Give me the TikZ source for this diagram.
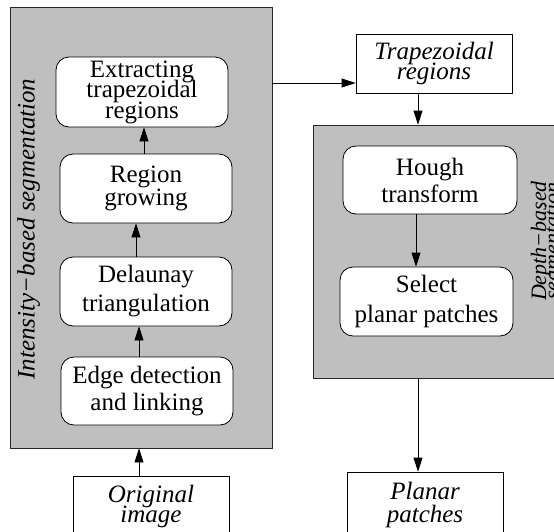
\documentclass[tikz,border=0pt]{standalone}
\usepackage{fontspec}
\setmainfont{Liberation Serif}
\usetikzlibrary{arrows.meta}
\newcommand\boxfont[1]{\fontsize{25}{#1}\selectfont\lineskiplimit=-50pt}
\begin{document}
\begin{tikzpicture}[x=1pt,y=-1pt,
  panel/.style={draw=black!85, fill=panel gray, line width=0.8pt, inner sep=0pt},
  proc/.style={draw=black, fill=white, rounded corners=13pt, line width=0.8pt, inner sep=0pt, align=center, font=\boxfont{27}},
  data/.style={draw=black, fill=white, line width=0.8pt, inner sep=0pt, align=center, font=\boxfont{20}\itshape},
  arrow/.style={-{Triangle[length=14pt,width=9pt]}, line width=0.8pt}]
\definecolor{panel gray}{gray}{0.75}
\useasboundingbox (0,0) rectangle (554,531);
\clip (0,0) rectangle (554,531);

    \node[panel, minimum width=262pt, minimum height=441pt] (intens) at (141,227.5) {};
    \node[panel, minimum width=262pt, minimum height=253pt] (depth) at (444,251.5) {};
    \node[rotate=90, anchor=base, font=\boxfont{26}\itshape] (intlabel) at (34.5,229) {Intensity−based segmentation};
    \node[rotate=90, align=center, font={\fontsize{22}{13}\selectfont\lineskiplimit=-50pt\itshape}] (deplabel) at (547.4,241) {Depth−based\\segmentation};

    \node[proc, minimum width=172pt, minimum height=70pt, font=\boxfont{20.5}] (extract) at (142,92) {Extracting\\trapezoidal\\regions};
    \node[proc, minimum width=172pt, minimum height=69pt, font=\boxfont{23}] (grow) at (146,188.5) {Region\\growing};
    \node[proc, minimum width=172pt, minimum height=69pt, font=\boxfont{29}] (delau) at (146,291.5) {Delaunay\\triangulation};
    \node[proc, minimum width=172pt, minimum height=68pt] (edge) at (147,391) {Edge detection\\and linking};
    \node[data, minimum width=156pt, minimum height=60pt] (orig) at (151,506) {Original\\image};

    \node[data, minimum width=156pt, minimum height=59pt] (trap) at (434,63.5) {Trapezoidal\\regions};
    \node[proc, minimum width=174pt, minimum height=68pt] (hough) at (430,180) {Hough\\transform};
    \node[proc, minimum width=173pt, minimum height=69pt, font=\boxfont{30}] (select) at (426.5,301.5) {Select\\planar patches};
    \node[data, minimum width=156pt, minimum height=65pt, font=\boxfont{23}\itshape] (planar) at (425,504.5) {Planar\\patches};

    \draw[arrow] ([xshift=-12pt]orig.north) -- ([xshift=-12pt]orig.north |- intens.south);
    \draw[arrow] ([xshift=-8pt]edge.north) -- ([xshift=-8pt]edge.north |- delau.south);
    \draw[arrow] ([xshift=-10pt]delau.north) -- ([xshift=-10pt]delau.north |- grow.south);
    \draw[arrow] ([xshift=-2pt]grow.north) -- ([xshift=-2pt]grow.north |- extract.south);
    \draw[arrow] ([yshift=-19.5pt]trap.west -| intens.east) -- ([yshift=-19.5pt]trap.west);
    \draw[arrow] ([xshift=-16pt]trap.south) -- ([xshift=-16pt]trap.south |- depth.north);
    \draw[arrow] ([xshift=-14pt]hough.south) -- ([xshift=-14pt]hough.south |- select.north);
    \draw[arrow] ([xshift=-7pt]planar.north |- depth.south) -- ([xshift=-7pt]planar.north);

\end{tikzpicture}
\end{document}
